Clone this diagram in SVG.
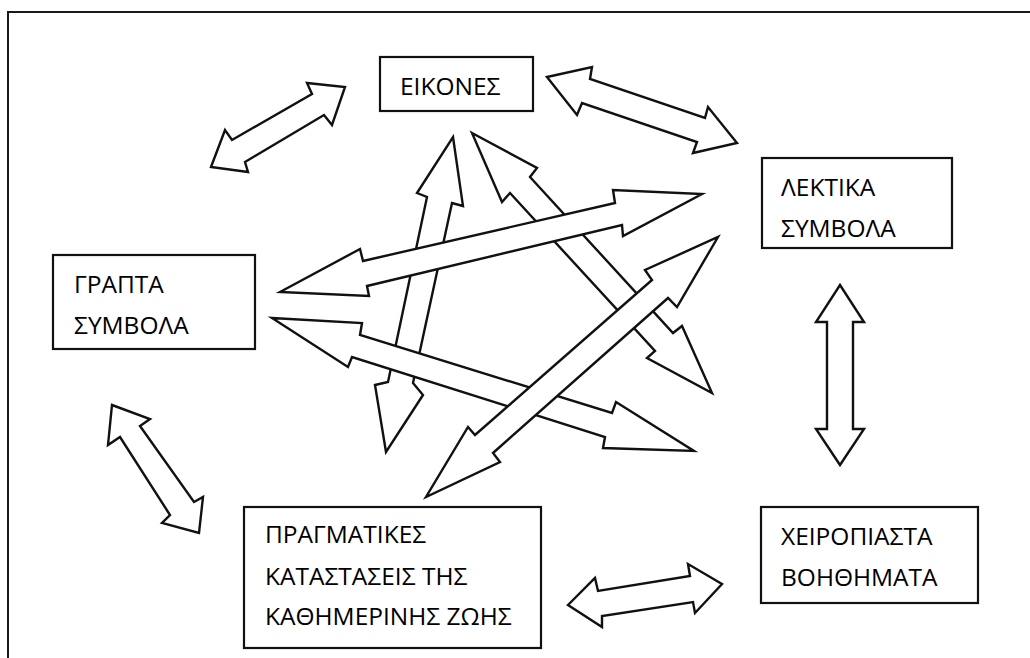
<svg xmlns="http://www.w3.org/2000/svg" width="1030" height="658" viewBox="0 0 1030 658">
<style>
.bg{fill:#ffffff}
.frame{fill:none;stroke:#1a1a1a;stroke-width:2}
.box{fill:#ffffff;stroke:#111111;stroke-width:2.2}
.arr{fill:#ffffff;stroke:#111111;stroke-width:2.4;stroke-linejoin:miter}
.lbl{font-family:"Open Sans","Noto Sans","DejaVu Sans",sans-serif;font-size:24.5px;fill:#000000}
</style>
<rect class="bg" x="0" y="0" width="1030" height="658"/>
<rect class="frame" x="8" y="12" width="1040" height="660"/>
<g id="connectors">
<polygon class="arr" points="211,167 225,130 232,140 312,94 307,83 345,87 332,125 324,115 245,162 248,172"/>
<polygon class="arr" points="547,77 592,67 590,79 705,118 708,107 737,143 693,153 697,142 582,103 577,115"/>
<polygon class="arr" points="840,285 864,322 853,322 853,429 864,429 840,465 816,429 827,429 827,322 816,322"/>
<polygon class="arr" points="568,605 595,578 598,591 690,576 688,564 722,584 695,613 693,602 602,616 602,627"/>
<polygon class="arr" points="112,405 150,419 140,426 194,502 203,497 199,533 162,523 170,515 120,437 108,445"/>
<polygon class="arr" points="453,137 463,206 452,203 413,383 423,395 386,452 375,385 388,382 427,197 417,193"/>
<polygon class="arr" points="472,133 537,168 530,177 673,333 682,326 712,393 647,358 655,351 510,193 502,202"/>
<polygon class="arr" points="280,292 360,249 363,261 615,203 613,190 702,194 623,236 622,225 367,286 369,296"/>
<polygon class="arr" points="272,318 362,323 360,335 612,413 616,402 694,451 603,448 605,437 352,357 348,367"/>
<polygon class="arr" points="718,237 677,307 668,298 493,453 500,462 426,497 468,427 475,435 652,280 645,270"/>
</g>
<g id="node-eikones">
<rect class="box" x="380" y="57" width="153" height="54"/>
<text class="lbl" x="400" y="95">ΕΙΚΟΝΕΣ</text>
</g>
<g id="node-lektika">
<rect class="box" x="762" y="158" width="190" height="90"/>
<text class="lbl" x="781" y="196">ΛΕΚΤΙΚΑ</text>
<text class="lbl" x="781" y="237">ΣΥΜΒΟΛΑ</text>
</g>
<g id="node-grapta">
<rect class="box" x="53" y="255" width="202" height="94"/>
<text class="lbl" x="74" y="293">ΓΡΑΠΤΑ</text>
<text class="lbl" x="74" y="334">ΣΥΜΒΟΛΑ</text>
</g>
<g id="node-pragmatikes">
<rect class="box" x="244" y="507" width="297" height="141"/>
<text class="lbl" x="265" y="543">ΠΡΑΓΜΑΤΙΚΕΣ</text>
<text class="lbl" x="265" y="585">ΚΑΤΑΣΤΑΣΕΙΣ ΤΗΣ</text>
<text class="lbl" x="265" y="625">ΚΑΘΗΜΕΡΙΝΗΣ ΖΩΗΣ</text>
</g>
<g id="node-xeiropiasta">
<rect class="box" x="761" y="507" width="217" height="96"/>
<text class="lbl" x="781" y="545">ΧΕΙΡΟΠΙΑΣΤΑ</text>
<text class="lbl" x="781" y="586">ΒΟΗΘΗΜΑΤΑ</text>
</g>
</svg>
